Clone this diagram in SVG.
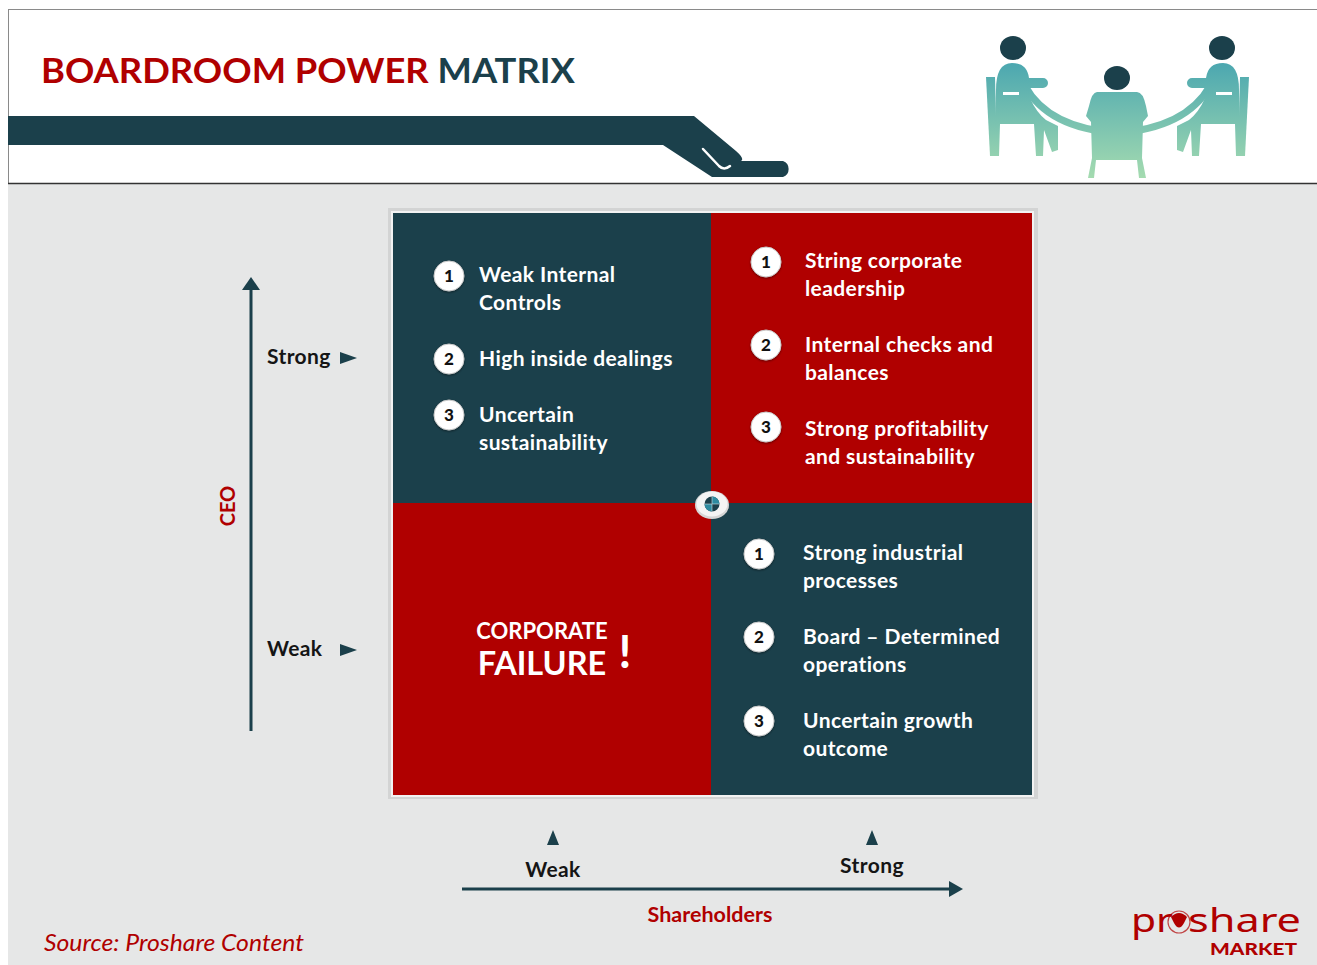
<svg xmlns="http://www.w3.org/2000/svg" width="1317" height="965" viewBox="0 0 1317 965">
  <defs>
    <linearGradient id="people" x1="0" y1="40" x2="0" y2="180" gradientUnits="userSpaceOnUse">
      <stop offset="0" stop-color="#3a9db0"/>
      <stop offset="1" stop-color="#a6dcb0"/>
    </linearGradient>
    <filter id="badgeShadow" x="-30%" y="-30%" width="160%" height="160%">
      <feDropShadow dx="0" dy="1" stdDeviation="0.8" flood-color="#000" flood-opacity="0.45"/>
    </filter>
  </defs>
  <style>
    .txt { font-family: Lato, "Liberation Sans", sans-serif; font-weight: 700; }
    .item { font-family: Lato, "Liberation Sans", sans-serif; font-weight: 700; font-size: 21px; letter-spacing: 0.4px; fill: #ffffff; }
    .num { font-family: Lato, "Liberation Sans", sans-serif; font-weight: 900; font-size: 17px; fill: #111111; text-anchor: middle; }
    .badge { fill: #ffffff; stroke: #c9c9c9; stroke-width: 1; filter: url(#badgeShadow); }
    .axisLabel { font-family: Lato, "Liberation Sans", sans-serif; font-weight: 700; font-size: 21px; letter-spacing: 0.4px; fill: #151515; }
    .red { fill: #b00000; }
    .teal { fill: #1b404b; }
    .axis { stroke: #1b404b; stroke-width: 3; fill: none; }
    .tick { fill: #1b404b; }
    .logo { font-family: "Noto Sans", "Liberation Sans", sans-serif; fill: #b00000; }
  </style>

  <!-- page -->
  <rect x="0" y="0" width="1317" height="965" fill="#ffffff"/>
  <rect x="8" y="183" width="1309" height="782" fill="#e6e7e7"/>

  <!-- header panel -->
  <g id="header">
    <line x1="8" y1="9.5" x2="1317" y2="9.5" stroke="#8a8a8a" stroke-width="1"/>
    <line x1="8.5" y1="9" x2="8.5" y2="183" stroke="#8a8a8a" stroke-width="1"/>
    <line x1="8" y1="183.5" x2="1317" y2="183.5" stroke="#333333" stroke-width="1.5"/>
    <text class="txt" x="41" y="83" font-size="34" textLength="534" lengthAdjust="spacingAndGlyphs"><tspan fill="#b00000">BOARDROOM POWER </tspan><tspan fill="#1b404b">MATRIX</tspan></text>
    <!-- hand-shaped banner -->
    <path d="M8,116 H694 L736,151 Q745,159 741,161 H783 A8.5,8.5 0 0 1 783,177 H712 L663,145 H8 Z" fill="#1b404b"/>
    <path d="M703,149 L719,166 Q724,171 730,166" fill="none" stroke="#ffffff" stroke-width="2.5" stroke-linecap="round"/>
  </g>

  <!-- people at the table -->
  <g id="people-icon" fill="url(#people)">
    <path d="M1025,86 Q1048,128 1117,133 Q1186,128 1210,86" fill="none" stroke="url(#people)" stroke-width="7" stroke-linecap="round"/>
    <g id="person-left">
      <path d="M986,77 H995 L997,156 H990 Z"/>
      <path d="M996,90 Q996,63 1012,63 Q1027,63 1029,78 H1043 A5,5 0 0 1 1043,88 H1030 L1030,98 Q1036,112 1046,120 L1058,126 L1058,150 L1052,152 L1044,130 L1043,156 L1036,156 L1034,124 L1000,124 L999,156 L994,156 Z"/>
      <rect x="1003" y="92" width="16" height="3" fill="#ffffff"/>
    </g>
    <g id="person-right" transform="translate(2235,0) scale(-1,1)">
      <path d="M986,77 H995 L997,156 H990 Z"/>
      <path d="M996,90 Q996,63 1012,63 Q1027,63 1029,78 H1043 A5,5 0 0 1 1043,88 H1030 L1030,98 Q1036,112 1046,120 L1058,126 L1058,150 L1052,152 L1044,130 L1043,156 L1036,156 L1034,124 L1000,124 L999,156 L994,156 Z"/>
      <rect x="1003" y="92" width="16" height="3" fill="#ffffff"/>
    </g>
    <g id="person-middle">
      <path d="M1097,92 H1137 Q1143,92 1146,106 L1148,116 L1143,122 L1142,158 L1146,178 H1139 L1137,160 H1096 L1094,178 H1088 L1092,158 L1091,122 L1086,116 L1089,106 Q1092,92 1097,92 Z"/>
    </g>
    <ellipse cx="1013" cy="48" rx="13" ry="12" fill="#1b404b"/>
    <ellipse cx="1222" cy="48" rx="13" ry="12" fill="#1b404b"/>
    <ellipse cx="1117" cy="78" rx="13" ry="12" fill="#1b404b"/>
  </g>

  <!-- matrix frame -->
  <g id="matrix-frame">
    <rect x="388" y="208" width="650" height="591" fill="#d3d4d4"/>
    <rect x="391" y="211" width="643" height="586" fill="#f2f2f2"/>
  </g>

  <g id="quadrant-top-left">
    <rect x="393" y="213" width="318" height="290" class="teal"/>
    <circle class="badge" cx="449" cy="276" r="15"/>
    <text class="num" x="449" y="282">1</text>
    <text class="item" x="479" y="282">Weak Internal</text>
    <text class="item" x="479" y="310">Controls</text>
    <circle class="badge" cx="449" cy="359" r="15"/>
    <text class="num" x="449" y="365">2</text>
    <text class="item" x="479" y="366">High inside dealings</text>
    <circle class="badge" cx="449" cy="415" r="15"/>
    <text class="num" x="449" y="421">3</text>
    <text class="item" x="479" y="422">Uncertain</text>
    <text class="item" x="479" y="450">sustainability</text>
  </g>

  <g id="quadrant-top-right">
    <rect x="711" y="213" width="321" height="290" class="red"/>
    <circle class="badge" cx="766" cy="262" r="15"/>
    <text class="num" x="766" y="268">1</text>
    <text class="item" x="805" y="268">String corporate</text>
    <text class="item" x="805" y="296">leadership</text>
    <circle class="badge" cx="766" cy="345" r="15"/>
    <text class="num" x="766" y="351">2</text>
    <text class="item" x="805" y="352">Internal checks and</text>
    <text class="item" x="805" y="380">balances</text>
    <circle class="badge" cx="766" cy="427" r="15"/>
    <text class="num" x="766" y="433">3</text>
    <text class="item" x="805" y="436">Strong profitability</text>
    <text class="item" x="805" y="464">and sustainability</text>
  </g>

  <g id="quadrant-bottom-left">
    <rect x="393" y="503" width="318" height="292" class="red"/>
    <text class="txt" x="542" y="639" font-size="22" font-weight="600" fill="#ffffff" text-anchor="middle">CORPORATE</text>
    <text class="txt" x="542" y="675" font-size="32.5" font-weight="600" fill="#ffffff" text-anchor="middle">FAILURE</text>
    <text class="txt" x="625" y="668" font-size="46" fill="#ffffff" text-anchor="middle">!</text>
  </g>

  <g id="quadrant-bottom-right">
    <rect x="711" y="503" width="321" height="292" class="teal"/>
    <circle class="badge" cx="759" cy="554" r="15"/>
    <text class="num" x="759" y="560">1</text>
    <text class="item" x="803" y="560">Strong industrial</text>
    <text class="item" x="803" y="588">processes</text>
    <circle class="badge" cx="759" cy="637" r="15"/>
    <text class="num" x="759" y="643">2</text>
    <text class="item" x="803" y="644">Board – Determined</text>
    <text class="item" x="803" y="672">operations</text>
    <circle class="badge" cx="759" cy="721" r="15"/>
    <text class="num" x="759" y="727">3</text>
    <text class="item" x="803" y="728">Uncertain growth</text>
    <text class="item" x="803" y="756">outcome</text>
  </g>

  <!-- centre hub -->
  <g id="hub">
    <ellipse cx="712" cy="505" rx="17" ry="14" fill="#d6d6d6"/>
    <ellipse cx="712" cy="504" rx="15.5" ry="12.5" fill="#f4f4f4"/>
    <circle cx="712" cy="504" r="7.5" fill="#1b404b"/>
    <path d="M712,504 V496.5 A7.5,7.5 0 0 1 719.5,504 Z" fill="#2e8ba0"/>
    <path d="M712,504 V511.5 A7.5,7.5 0 0 1 704.5,504 Z" fill="#2e8ba0"/>
    <path d="M704.5,504 H719.5 M712,496.5 V511.5" stroke="#ffffff" stroke-width="0.8" opacity="0.6"/>
  </g>

  <!-- axes -->
  <g id="connectors">
    <line class="axis" x1="251" y1="731" x2="251" y2="289"/>
    <path class="tick" d="M242,290 L251,277 L260,290 Z"/>
    <path class="tick" d="M340,352 L357,358 L340,364 Z"/>
    <path class="tick" d="M340,644 L357,650 L340,656 Z"/>
    <line class="axis" x1="462" y1="889" x2="950" y2="889"/>
    <path class="tick" d="M949,881 L963,889 L949,897 Z"/>
    <path class="tick" d="M547,845 L553,830 L559,845 Z"/>
    <path class="tick" d="M866,845 L872,830 L878,845 Z"/>
  </g>

  <g id="ceo-axis-labels">
    <text class="axisLabel" x="267" y="364">Strong</text>
    <text class="axisLabel" x="267" y="656">Weak</text>
    <text class="txt red" x="0" y="0" font-size="20" text-anchor="middle" transform="translate(235,506) rotate(-90)">CEO</text>
  </g>

  <g id="shareholder-axis-labels">
    <text class="axisLabel" x="553" y="877" text-anchor="middle">Weak</text>
    <text class="axisLabel" x="872" y="873" text-anchor="middle">Strong</text>
    <text class="txt red" x="710" y="922" font-size="21.5" text-anchor="middle">Shareholders</text>
  </g>

  <text x="44" y="951" font-family="Lato, 'Liberation Sans', sans-serif" font-style="italic" font-size="24" textLength="260" lengthAdjust="spacingAndGlyphs" fill="#b00000">Source: Proshare Content</text>

  <!-- brand mark -->
  <g id="logo">
    <text class="logo" x="1131" y="932" font-size="32" textLength="42" lengthAdjust="spacingAndGlyphs">pr</text>
    <circle cx="1179" cy="922" r="11" fill="none" stroke="#b00000" stroke-width="1.2" opacity="0.7"/>
    <path d="M1171,917 Q1179,909 1187,917 L1184,923 Q1179,932 1174,923 Z" fill="#b00000"/>
    <text class="logo" x="1188" y="932" font-size="32" textLength="113" lengthAdjust="spacingAndGlyphs">share</text>
    <text x="1210" y="955" font-family="Lato, 'Liberation Sans', sans-serif" font-weight="900" font-size="16" fill="#b00000" textLength="87" lengthAdjust="spacingAndGlyphs">MARKET</text>
  </g>
</svg>
